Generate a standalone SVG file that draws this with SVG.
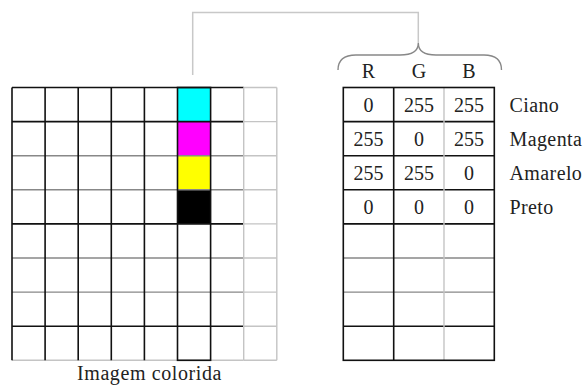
<svg xmlns="http://www.w3.org/2000/svg" width="586" height="387" viewBox="0 0 586 387">
<style>
  .t { font-size: 20px; fill: #222; }
  .c { text-anchor: middle; }
  .blk { stroke: #111; stroke-width: 1.6; fill: none; }
  .gry { stroke: #888; stroke-width: 1.4; fill: none; }
  .lgt { stroke: #c4c4c4; stroke-width: 1.4; fill: none; }
  .conn { stroke: #c8c8c8; stroke-width: 1.5; fill: none; }
</style>
<rect width="586" height="387" fill="#fff"/>

<g id="connectors">
  <path class="conn" d="M192.7 75 V12.5 H418.3 V43"/>
  <path class="gry" d="M338 70 Q338 55 356 55 L400 55 Q418.3 55 418.3 43 Q418.3 55 436 55 L484 55 Q501.5 55 501.5 70"/>
</g>

<g id="image-grid" font-family="Liberation Serif, DejaVu Serif, serif">
  <rect x="177.5" y="87.5" width="33.1" height="34.1" fill="#00ffff"/>
  <rect x="177.5" y="121.6" width="33.1" height="34.1" fill="#ff00ff"/>
  <rect x="177.5" y="155.7" width="33.1" height="34.1" fill="#ffff00"/>
  <rect x="177.5" y="189.8" width="33.1" height="34.1" fill="#000"/>
  <path class="blk" d="M12 87.5 H243.7 M12 121.6 H243.7 M12 223.9 H243.7 M12 326.2 H243.7"/>
  <path class="gry" d="M12 155.7 H243.7 M12 189.8 H243.7 M12 258 H243.7 M12 292.1 H243.7"/>
  <path class="lgt" d="M12 360.3 H243.7 M243.7 87.5 H276.8 M243.7 121.6 H276.8 M243.7 155.7 H276.8 M243.7 189.8 H276.8 M243.7 223.9 H276.8 M243.7 258 H276.8 M243.7 292.1 H276.8 M243.7 326.2 H276.8 M243.7 360.3 H276.8"/>
  <path class="blk" d="M12 87.5 V360.3 M45.1 87.5 V360.3 M78.2 87.5 V360.3 M111.3 87.5 V360.3 M144.4 87.5 V360.3"/>
  <path class="lgt" d="M243.7 87.5 V360.3 M276.8 87.5 V360.3"/>
  <rect class="blk" x="177.5" y="87.5" width="33.1" height="272.8"/>
  <text class="t c" x="149.5" y="380" font-size="23" letter-spacing="0.6">Imagem colorida</text>
</g>

<g id="rgb-table" font-family="Liberation Serif, DejaVu Serif, serif">
  <text class="t c" x="368.5" y="77.5">R</text>
  <text class="t c" x="419" y="77.5">G</text>
  <text class="t c" x="469" y="77.5">B</text>
  <path class="blk" d="M343.3 121.6 H494.3 M343.3 155.7 H494.3 M343.3 189.8 H494.3 M343.3 223.9 H494.3 M343.3 326.2 H494.3"/>
  <path class="gry" d="M343.3 258 H494.3 M343.3 292.1 H494.3"/>
  <path class="lgt" d="M444 87.5 V360.3"/>
  <path class="blk" d="M393.7 87.5 V360.3"/>
  <rect class="blk" x="343.3" y="87.5" width="151" height="272.8"/>

  <text class="t c" x="368.5" y="111.5">0</text>
  <text class="t c" x="419" y="111.5">255</text>
  <text class="t c" x="469" y="111.5">255</text>
  <text class="t c" x="368.5" y="145.6">255</text>
  <text class="t c" x="419" y="145.6">0</text>
  <text class="t c" x="469" y="145.6">255</text>
  <text class="t c" x="368.5" y="179.7">255</text>
  <text class="t c" x="419" y="179.7">255</text>
  <text class="t c" x="469" y="179.7">0</text>
  <text class="t c" x="368.5" y="213.8">0</text>
  <text class="t c" x="419" y="213.8">0</text>
  <text class="t c" x="469" y="213.8">0</text>
</g>

<g id="labels" font-family="Liberation Serif, DejaVu Serif, serif">
  <text class="t" x="509.5" y="111.5" letter-spacing="0.4">Ciano</text>
  <text class="t" x="509.5" y="145.6" letter-spacing="0.4">Magenta</text>
  <text class="t" x="509.5" y="179.7" letter-spacing="0.4">Amarelo</text>
  <text class="t" x="509.5" y="213.8" letter-spacing="0.4">Preto</text>
</g>
</svg>
